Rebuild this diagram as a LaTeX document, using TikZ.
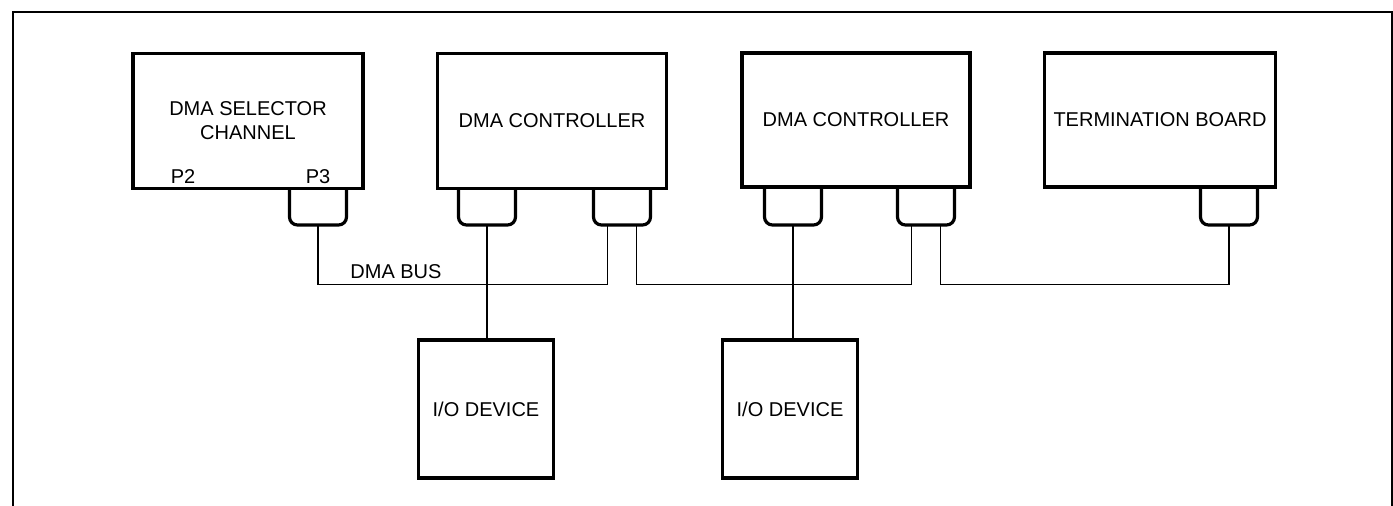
\documentclass[tikz,border=0pt]{standalone}
\usepackage{fontspec}
\setmainfont{Liberation Sans}
\usetikzlibrary{positioning}
\tikzstyle{unit} = [draw, line width=1.6pt, align=center, inner sep=0pt, font=\fontsize{10}{12}\selectfont]
\tikzstyle{wire} = [line width=0.8pt]

\begin{document}
\begin{tikzpicture}[x=0.5pt, y=-0.5pt,
			plug/.style={line width=1.6pt, rounded corners=4pt},
			lbl/.style={font=\fontsize{10}{12}\selectfont, inner sep=0pt}
			]
			\useasboundingbox (0,0) rectangle (1393,506);
			
			% Frame, open at the bottom
			\draw[line width=1.2pt] (13,506) -- (13,12) -- (1392,12) -- (1392,506);
			
			% Units
			\node[unit, minimum width=115pt, minimum height=67.5pt] (sel) at (248,121) {DMA SELECTOR\\CHANNEL};
			\node[unit, minimum width=114.5pt, minimum height=67.5pt] (ctrlA) at (552,121) {DMA CONTROLLER};
			\node[unit, minimum width=114pt, minimum height=67pt] (ctrlB) at (856,120) {DMA CONTROLLER};
			\node[unit, minimum width=115.5pt, minimum height=67pt] (term) at (1160,120) {TERMINATION BOARD};
			\node[unit, minimum width=67.5pt, minimum height=69pt] (ioA) at (486,409) {I/O DEVICE};
			\node[unit, minimum width=67.5pt, minimum height=69pt] (ioB) at (790,409) {I/O DEVICE};
			
			% Connector labels
			\node[lbl] (p2) at (183,177) {P2};
			\node[lbl] (p3) at (318,177) {P3};
			
			% Plugs under the boards
			\foreach \x/\n in {318/plS, 487/plA, 622/plB, 793/plC, 926/plD, 1229/plT} {
				\draw[plug] (\x-28.5,188) -- (\x-28.5,225) -- (\x+28.5,225) -- (\x+28.5,188);
				\coordinate (\n) at (\x,225);
				\coordinate (\n-l) at (\x-14.5,225);
				\coordinate (\n-r) at (\x+14.5,225);
			}
			
			% DMA bus segments
			\draw[wire] (plS) -- ++(0,59.5) -| (plB-l);
			\draw[wire] (plB-r) -- ++(0,59.5) -| (plD-l);
			\draw[wire] (plD-r) -- ++(0,59.5) -| (plT);
			\node[lbl, anchor=west] (bus) at (350,272) {DMA BUS};
			
			% I/O devices
			\draw[wire] (plA) -- (plA |- ioA.north);
			\draw[wire] (plC) -- (plC |- ioB.north);
			
\end{tikzpicture}
\end{document}
